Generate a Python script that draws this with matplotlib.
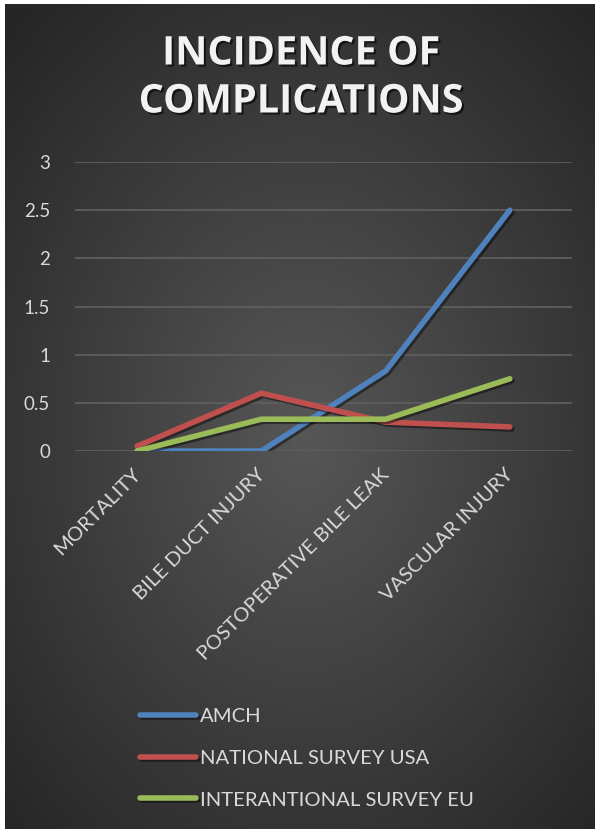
import numpy as np
import matplotlib.pyplot as plt
import matplotlib.patheffects as pe
from matplotlib.transforms import ScaledTranslation

categories = ["MORTALITY", "BILE DUCT INJURY", "POSTOPERATIVE BILE LEAK", "VASCULAR INJURY"]
amch = [0, 0, 0.83, 2.5]
national_usa = [0.05, 0.6, 0.3, 0.25]
international_eu = [0, 0.33, 0.33, 0.75]
series_names = ["AMCH", "NATIONAL SURVEY USA", "INTERANTIONAL SURVEY EU"]
series_colors = ["#4F81BD", "#C0504D", "#9BBB59"]
y_ticks = [0, 0.5, 1, 1.5, 2, 2.5, 3]

W, H = 596, 832
fig = plt.figure(figsize=(W / 100, H / 100), dpi=100)
fig.patch.set_facecolor("white")

# dark radial-gradient backdrop
bg = fig.add_axes([5 / W, 3 / H, 590 / W, 825 / H])
yy, xx = np.mgrid[0:825, 0:590]
r = np.sqrt(((xx - 300) / 420) ** 2 + ((yy - 430) / 560) ** 2)
shade = np.clip(0.34 - 0.19 * r, 0.15, 0.34)
bg.imshow(np.dstack([shade] * 3), aspect="auto", interpolation="bilinear")
bg.axis("off")

ax = fig.add_axes([75 / W, (H - 451) / H, 497 / W, 289 / H])
ax.patch.set_alpha(0)
x = np.arange(len(categories))
shadow = [pe.SimpleLineShadow(offset=(1.5, -1.5), shadow_color="black", alpha=0.45), pe.Normal()]
for vals, name, col in zip([amch, national_usa, international_eu], series_names, series_colors):
    ax.plot(x, vals, color=col, lw=4, solid_capstyle="round", solid_joinstyle="round",
            label=name, path_effects=shadow)

ax.set_xlim(-0.5, 3.5)
ax.set_ylim(0, 3)
ax.set_yticks(y_ticks)
ax.set_yticklabels([f"{t:g}" for t in y_ticks], fontsize=13.5, color="#d9d9d9", family="Lato")
ax.set_xticks(x)
ax.set_xticklabels(categories, rotation=45, ha="right", va="top", rotation_mode="anchor",
                   fontsize=14.6, color="#d9d9d9", family="Lato")
ax.tick_params(length=0, axis="y", pad=18)
ax.tick_params(length=0, axis="x", pad=10.5)
for lab in ax.get_xticklabels():
    lab.set_transform(lab.get_transform() + ScaledTranslation(-0.05, 0, fig.dpi_scale_trans))
ax.grid(axis="y", color="#5e5e5e", lw=1.3)
ax.set_axisbelow(True)
for s in ax.spines.values():
    s.set_visible(False)

fig.text(0.505, 1 - 78 / H, "INCIDENCE OF\nCOMPLICATIONS", ha="center", va="center",
         fontsize=28.5, fontweight="bold", family="Open Sans", color="#f2f2f2", linespacing=1.3,
         path_effects=[pe.SimplePatchShadow(offset=(1.5, -1.5), shadow_rgbFace="black", alpha=0.6), pe.Normal()])

leg = fig.legend(loc="upper left", bbox_to_anchor=(122 / W, 1 - 690 / H), frameon=False,
                 handlelength=2.75, handletextpad=0.2, labelspacing=1.2,
                 prop={"family": "Lato", "size": 14.6})
for t in leg.get_texts():
    t.set_color("#d9d9d9")

fig.savefig("out.png", dpi=100, facecolor=fig.get_facecolor())
